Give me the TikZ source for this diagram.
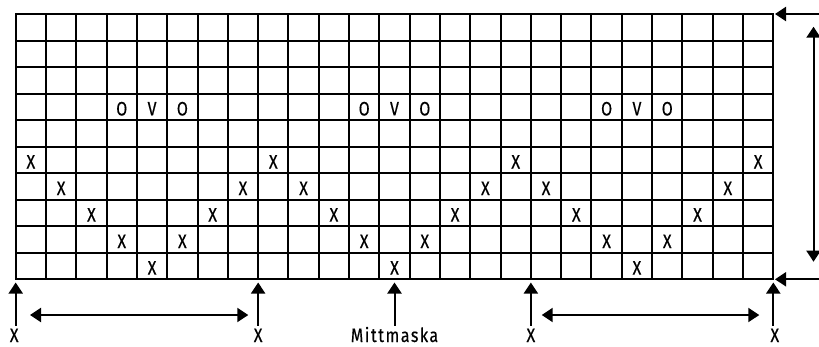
\documentclass[tikz,border=0pt]{standalone}
\usepackage{fontspec}
\setmainfont{Fira Sans}[FakeStretch=0.82,FakeBold=0.4]
\usetikzlibrary{arrows.meta}
\begin{document}
\begin{tikzpicture}[x=1pt,y=-1pt,
  gridline/.style={line width=2pt, line cap=rect},
  cell/.style={font=\fontsize{19.5}{19.5}\selectfont, inner sep=0pt, anchor=base},
  lbl/.style={font=\fontsize{19.5}{19.5}\selectfont\addfontfeatures{LetterSpace=8}, inner sep=0pt, anchor=base},
  arr/.style={line width=2pt, -{Triangle[length=11pt,width=14pt]}},
  darr/.style={line width=2pt, {Triangle[length=11pt,width=14pt]}-{Triangle[length=11pt,width=14pt]}}]
\useasboundingbox (0,0) rectangle (819,346);
\def\xo{15.7}\def\cw{30.304}\def\yo{14}\def\rh{26.53}
% grid
\foreach \c in {0,...,25} \draw[gridline] ({\xo+\c*\cw},\yo) -- ({\xo+\c*\cw},{\yo+10*\rh});
\foreach \r in {0,...,10} \draw[gridline] (\xo,{\yo+\r*\rh}) -- ({\xo+25*\cw},{\yo+\r*\rh});
% X marks
\foreach \c/\r [count=\i] in {0/5,8/5,16/5,24/5,
  1/6,7/6,9/6,15/6,17/6,23/6,
  2/7,6/7,10/7,14/7,18/7,22/7,
  3/8,5/8,11/8,13/8,19/8,21/8,
  4/9,12/9,20/9}
  \node[cell] (x\i) at ({\xo+(\c+0.5)*\cw},{\yo+(\r+0.5)*\rh+8.6}) {X};
% O V O
\foreach \c [count=\i] in {3,11,19}{
  \node[cell] (oa\i) at ({\xo+(\c+0.5)*\cw},{\yo+3.5*\rh+8.6}) {O};
  \node[cell] (v\i) at ({\xo+(\c+1.5)*\cw},{\yo+3.5*\rh+8.6}) {V};
  \node[cell] (ob\i) at ({\xo+(\c+2.5)*\cw},{\yo+3.5*\rh+8.6}) {O};
}
% bottom vertical arrows
\foreach \p/\n in {0/a,8/b,12.5/m,17/c,25/d}{
  \coordinate (t\n) at ({\xo+\p*\cw},282.5);
  \coordinate (s\n) at ({\xo+\p*\cw},325.5);
  \draw[arr] (s\n) -- (t\n);
}
\node[cell] (la) at ({\xo-1.5},342) {X};
\node[cell] (lb) at ({\xo+8*\cw},342) {X};
\node[lbl] (lm) at ({\xo+12.5*\cw},342) {Mittmaska};
\node[cell] (lc) at ({\xo+17*\cw},342) {X};
\node[cell] (ld) at ({\xo+25*\cw+1.5},342) {X};
% horizontal double arrows
\coordinate (h1a) at (30,315); \coordinate (h1b) at (248.3,315);
\coordinate (h2a) at (541.7,315); \coordinate (h2b) at (759.3,315);
\draw[darr] (h1a) -- (h1b);
\draw[darr] (h2a) -- (h2b);
% right side
\coordinate (rt0) at (820,\yo); \coordinate (rt1) at (775,\yo);
\coordinate (rb0) at (820,{\yo+10*\rh}); \coordinate (rb1) at (775,{\yo+10*\rh});
\draw[arr] (rt0) -- (rt1);
\draw[arr] (rb0) -- (rb1);
\coordinate (va) at (813.5,26.7); \coordinate (vb) at (813.5,261.7);
\draw[darr] (va) -- (vb);
\end{tikzpicture}
\end{document}
